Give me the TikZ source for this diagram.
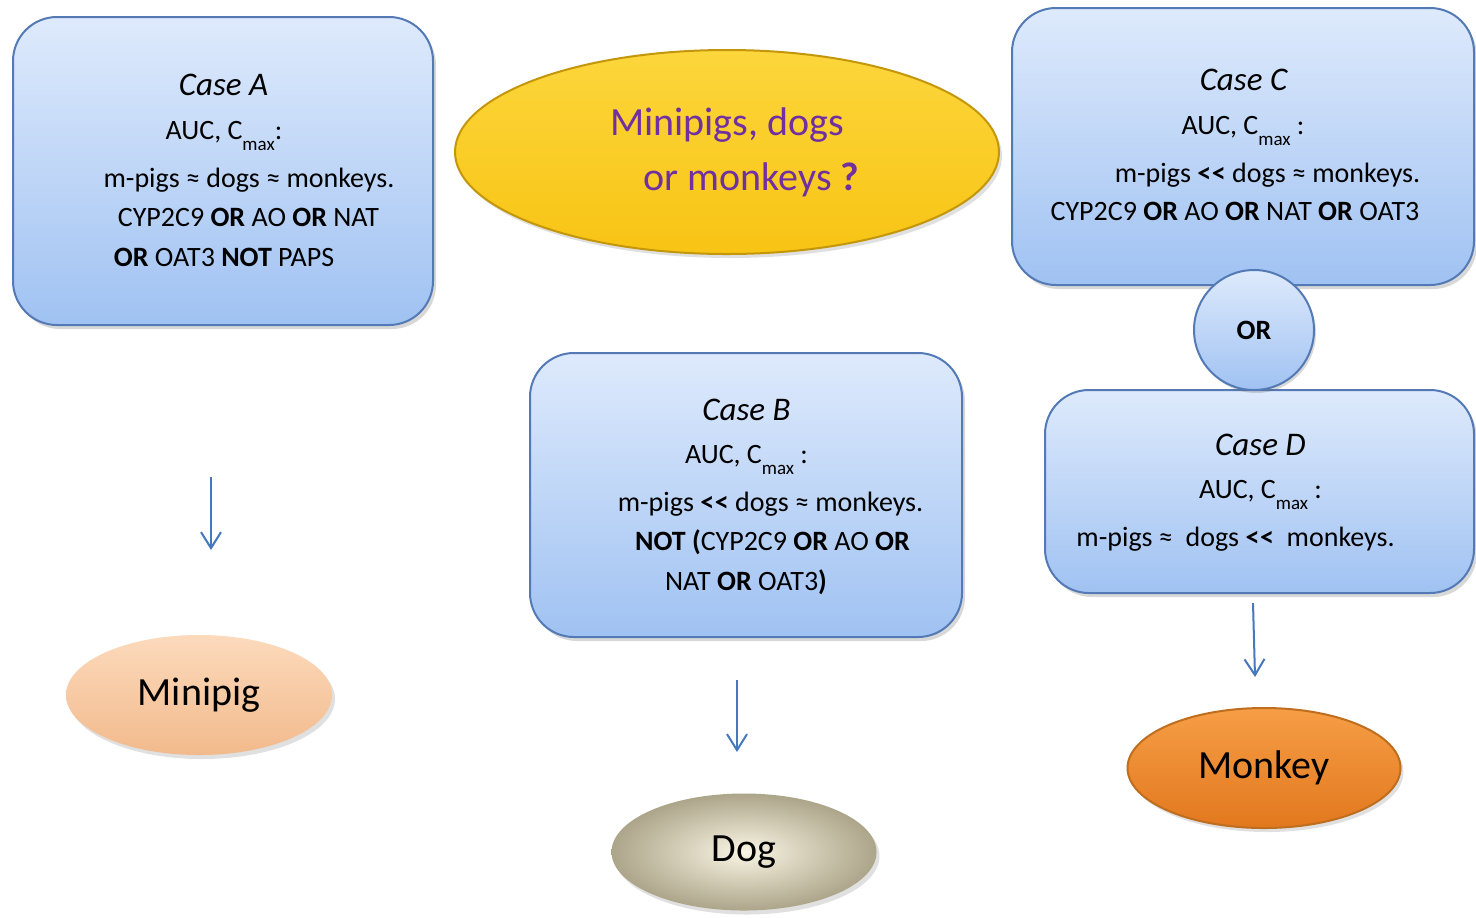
\documentclass[tikz,border=0pt]{standalone}
\usepackage{fontspec}
\setmainfont{Carlito}
\usetikzlibrary{arrows.meta,shadows,shapes.geometric}
\definecolor{boxtop}{RGB}{222,234,252}
\definecolor{boxbot}{RGB}{160,194,242}
\definecolor{boxline}{RGB}{84,122,182}
\definecolor{yelfill}{RGB}{248,196,20}
\definecolor{yeltop}{RGB}{252,214,60}
\definecolor{yelline}{RGB}{196,150,10}
\definecolor{peachtop}{RGB}{252,218,188}
\definecolor{peachbot}{RGB}{242,186,140}
\definecolor{dogin}{RGB}{250,245,228}
\definecolor{dogout}{RGB}{172,165,138}
\definecolor{montop}{RGB}{246,158,70}
\definecolor{monbot}{RGB}{226,120,30}
\definecolor{monline}{RGB}{190,110,30}
\definecolor{purp}{RGB}{112,48,160}
\definecolor{arrowblue}{RGB}{70,120,190}
\tikzset{
  casebox/.style={draw=boxline, line width=1pt, rounded corners=22pt, top color=boxtop, bottom color=boxbot,
    drop shadow={shadow xshift=1.5pt, shadow yshift=-2pt, opacity=0.25, fill=black!60}},
  orcircle/.style={circle, draw=boxline, line width=1pt, top color=boxtop, bottom color=boxbot,
    minimum size=60pt, inner sep=0pt, font=\fontsize{14}{14}\selectfont\bfseries,
    drop shadow={shadow xshift=1pt, shadow yshift=-1.5pt, opacity=0.25, fill=black!60}},
  ell/.style={ellipse, inner sep=0pt, font=\fontsize{20}{20}\selectfont,
    drop shadow={shadow xshift=1.5pt, shadow yshift=-2pt, opacity=0.2, fill=black!60}},
  body/.style={anchor=base, inner sep=0pt, font=\fontsize{14}{14}\selectfont},
  title/.style={anchor=base, inner sep=0pt, font=\fontsize{16.5}{16.5}\selectfont\itshape},
  purptxt/.style={anchor=base, inner sep=0pt, text=purp, font=\fontsize{20}{20}\selectfont},
  flow/.style={draw=arrowblue, line width=1pt, -{Straight Barb[length=8pt,width=10pt]}}
}
\newcommand{\cmaxsub}{\raisebox{-5.5pt}{\fontsize{9.5}{9.5}\selectfont max}}
\newcommand{\mlt}{\textbf{<\kern0.3pt<}}
\begin{document}
\begin{tikzpicture}[x=0.5pt,y=-0.5pt]
\useasboundingbox (0,0) rectangle (1476,917);
\fill[white] (0,0) rectangle (1476,917);

% boxes
\node[casebox, minimum width=210pt, minimum height=154pt] (boxA) at (223,171) {};
\node[casebox, minimum width=231pt, minimum height=138.5pt] (boxC) at (1243,146.5) {};
\node[casebox, minimum width=216pt, minimum height=142pt] (boxB) at (746,495) {};
\node[casebox, minimum width=214.5pt, minimum height=101.5pt] (boxD) at (1259.5,491.5) {};
\node[orcircle] (orc) at (1254,330) {OR};

% ellipses
\node[ell, minimum width=272pt, minimum height=102pt, draw=yelline, line width=1pt, top color=yeltop, bottom color=yelfill] (q) at (727,152) {};
\node[ell, minimum width=133pt, minimum height=60pt, top color=peachtop, bottom color=peachbot] (mp) at (199,695) {Minipig};
\node[ell, minimum width=132.5pt, minimum height=58.5pt, inner color=dogin, outer color=dogout] (dg) at (744,852) {\raisebox{2pt}{Dog}};
\node[ell, minimum width=136.5pt, minimum height=60pt, draw=monline, line width=1pt, top color=montop, bottom color=monbot] (mk) at (1264,768) {\raisebox{2pt}{Monkey}};

% question text
\node[purptxt] (q1) at (727,135) {Minipigs, dogs};
\node[purptxt] (q2) at (751.5,190) {or monkeys \textbf{?}};

% Case A text
\node[title] (a0) at (223.5,95) {Case A};
\node[body] (a1) at (224,139) {AUC, C\cmaxsub:};
\node[body] (a2) at (249,187) {m-pigs ≈ dogs ≈ monkeys.};
\node[body] (a3) at (248.5,226) {CYP2C9 \textbf{OR} AO \textbf{OR} NAT};
\node[body] (a4) at (224,266) {\textbf{OR} OAT3 \textbf{NOT} PAPS};

% Case C text
\node[title] (c0) at (1243.5,90) {Case C};
\node[body] (c1) at (1243,134) {AUC, C\cmaxsub\ :};
\node[body] (c2) at (1267.5,182) {m-pigs \mlt{} dogs ≈ monkeys.};
\node[body] (c3) at (1235,220) {CYP2C9 \textbf{OR} AO \textbf{OR} NAT \textbf{OR} OAT3};

% Case B text
\node[title] (b0) at (746.5,420) {Case B};
\node[body] (b1) at (746.5,463) {AUC, C\cmaxsub\ :};
\node[body] (b2) at (770.5,511) {m-pigs \mlt{} dogs ≈ monkeys.};
\node[body] (b3) at (772.5,550) {\textbf{NOT (}CYP2C9 \textbf{OR} AO \textbf{OR}};
\node[body] (b4) at (746,590) {NAT \textbf{OR} OAT3\textbf{)}};

% Case D text
\node[title] (d0) at (1260.5,455) {Case D};
\node[body] (d1) at (1260.5,498) {AUC, C\cmaxsub\ :};
\node[body] (d2) at (1235.5,546) {m-pigs ≈~ dogs \mlt{}~ monkeys.};

% arrows
\coordinate (s1) at (211,477); \coordinate (e1) at (211,550);
\coordinate (s2) at (737,680); \coordinate (e2) at (737,752);
\coordinate (s3) at (1253,603); \coordinate (e3) at (1255,677);
\draw[flow] (s1) -- (e1);
\draw[flow] (s2) -- (e2);
\draw[flow] (s3) -- (e3);
\end{tikzpicture}
\end{document}
